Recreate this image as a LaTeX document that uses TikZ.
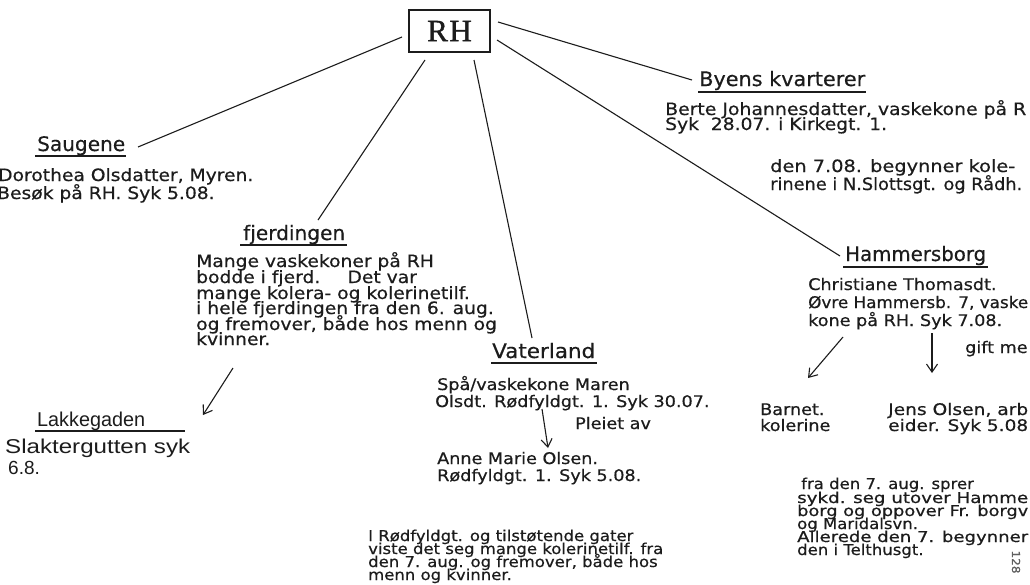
\documentclass[tikz,border=0pt]{standalone}
\usepackage{fontspec}
\setmainfont{DejaVu Sans}[FakeStretch=1.1, FakeBold=0.5]
\newfontfamily\rhfont{Liberation Serif}[FakeBold=1.2]
\newfontfamily\penfont{Liberation Sans}
\usepackage{graphicx}
\usetikzlibrary{arrows.meta}
\newsavebox\fitbox
\newcommand{\fitw}[2]{\sbox\fitbox{#2}\pgfmathsetmacro\fitx{#1/\the\wd\fitbox}\scalebox{\fitx}[1]{\usebox\fitbox}}
\definecolor{ink}{HTML}{1C1C1C}
\begin{document}
\begin{tikzpicture}[x=1pt,y=-1pt,
  txt/.style={inner sep=0pt, anchor=base west, text=ink, font=\fontsize{17}{19}\selectfont},
  body/.style={txt, font=\fontsize{16}{18}\selectfont},
  small/.style={txt, font=\fontsize{15}{17}\selectfont},
  head/.style={inner sep=0pt, anchor=base west, text=ink, font=\fontsize{20}{22}\selectfont},
  pen/.style={txt, font=\penfont\fontsize{20}{22}\selectfont},
  ul/.style={draw=ink, line width=1.4pt},
  conn/.style={draw=ink, line width=1.1pt},
  arr/.style={draw=ink, line width=1.1pt, -{Straight Barb[length=8pt,width=11pt,line width=1.1pt]}}]
\useasboundingbox (0,0) rectangle (1030,584);
\fill[white] (0,0) rectangle (1030,584);

% central box
\node[draw=ink, line width=1.4pt, minimum width=81pt, minimum height=42pt, inner sep=0pt,
      font=\rhfont\fontsize{31}{31}\selectfont, text=ink] (rh) at (449.5,31) {R\kern1.5pt H};

% Saugene
\node[head] (saug) at (37,151) {\fitw{88}{Saugene}};
\draw[ul] ([xshift=-2pt,yshift=-5pt]saug.base west) -- ([xshift=1pt,yshift=-5pt]saug.base east);
\node[txt] (saug1) at (-2,181) {Dorothea Olsdatter, Myren.};
\node[txt] (saug2) at (-3,199) {Besøk på RH. Syk 5.08.};

% Fjerdingen
\node[head] (fjer) at (243,240) {\fitw{102}{fjerdingen}};
\draw[ul] ([xshift=-3pt,yshift=-5pt]fjer.base west) -- ([xshift=2pt,yshift=-5pt]fjer.base east);
\node[txt] (fj1) at (196,267) {Mange vaskekoner på RH};
\node[txt] (fj2) at (196,283) {bodde i fjerd.\hspace{1.6em}Det var};
\node[txt] (fj3) at (196,299) {mange kolera- og kolerinetilf.};
\node[txt] (fj4) at (196,314) {i hele fjerdingen fra den 6. aug.};
\node[txt] (fj5) at (196,330) {og fremover, både hos menn og};
\node[txt] (fj6) at (196,345) {kvinner.};

% Lakkegaden
\node[pen] (lakk) at (37,426) {\fitw{108}{Lakkegaden}};
\draw[ul, line width=1.2pt] ([xshift=-2pt,yshift=-5pt]lakk.base west) -- ++(150,0);
\node[pen] (lk1) at (5,453) {\fitw{185}{Slaktergutten syk}};
\node[pen, font=\penfont\fontsize{19}{21}\selectfont] (lk2) at (8,474) {6.8.};

% Vaterland
\node[head] (vat) at (492,358) {\fitw{103}{Vaterland}};
\draw[ul] ([xshift=-1pt,yshift=-5pt]vat.base west) -- ([xshift=2pt,yshift=-5pt]vat.base east);
\node[body] (v1) at (437,390) {Spå/vaskekone Maren};
\node[body] (v2) at (435,407) {Olsdt. Rødfyldgt. 1. Syk 30.07.};
\node[body] (v3) at (575,429) {Pleiet av};
\node[body] (v4) at (437,464) {Anne Marie Olsen.};
\node[body] (v5) at (437,481) {Rødfyldgt. 1. Syk 5.08.};
\node[small] (b1) at (368,541) {I Rødfyldgt. og tilstøtende gater};
\node[small] (b2) at (368,554) {viste det seg mange kolerinetilf. fra};
\node[small] (b3) at (368,567) {den 7. aug. og fremover, både hos};
\node[small] (b4) at (368,580) {menn og kvinner.};

% Byens kvarterer
\node[head] (byen) at (699,86) {\fitw{166}{Byens kvarterer}};
\draw[ul] ([xshift=-1pt,yshift=-6pt]byen.base west) -- ([xshift=1pt,yshift=-6pt]byen.base east);
\node[txt] (by1) at (665,115) {\fitw{361}{Berte Johannesdatter, vaskekone på R}};
\node[txt] (by2) at (665,130) {Syk \ 28.07. i Kirkegt. 1.};
\node[txt] (by3) at (770,172) {\fitw{245}{den 7.08. begynner kole-}};
\node[txt] (by4) at (770,190) {\fitw{252}{rinene i N.Slottsgt. og Rådh.}};

% Hammersborg
\node[head] (ham) at (845,261) {\fitw{141}{Hammersborg}};
\draw[ul] ([xshift=-2pt,yshift=-6pt]ham.base west) -- ([xshift=2pt,yshift=-6pt]ham.base east);
\node[body] (h1) at (808,290) {Christiane Thomasdt.};
\node[body] (h2) at (808,308) {\fitw{220}{Øvre Hammersb. 7, vaske}};
\node[body] (h3) at (808,326) {kone på RH. Syk 7.08.};
\node[body] (h4) at (965,353) {gift me};
\node[body] (h5) at (760,415) {Barnet.};
\node[body] (h6) at (760,431) {kolerine};
\node[body] (h7) at (888,415) {\fitw{140}{Jens Olsen, arb}};
\node[body] (h8) at (888,431) {\fitw{140}{eider. Syk 5.08}};
\node[small] (f1) at (801,489) {fra den 7. aug. sprer};
\node[small] (f2) at (797,503) {\fitw{231}{sykd. seg utover Hamme}};
\node[small] (f3) at (797,516) {\fitw{231}{borg og oppover Fr. borgv}};
\node[small] (f4) at (797,529) {og Maridalsvn.};
\node[small] (f5) at (797,542) {\fitw{231}{Allerede den 7. begynner}};
\node[small] (f6) at (797,555) {den i Telthusgt.};
\node[inner sep=0pt, rotate=-90, text=ink!70, font=\fontsize{11}{12}\selectfont] (pg) at (1016,562) {128};

% connector end points
\coordinate (c-s1) at (402,37);   \coordinate (c-s2) at (138,147);
\coordinate (c-f1) at (425,60);   \coordinate (c-f2) at (318,220);
\coordinate (c-v1) at (474,60);   \coordinate (c-v2) at (532,338);
\coordinate (c-b1) at (498,22);   \coordinate (c-b2) at (692,80);
\coordinate (c-h1) at (497,40);   \coordinate (c-h2) at (840,256);
\draw[conn] (c-s1) -- (c-s2);
\draw[conn] (c-f1) -- (c-f2);
\draw[conn] (c-v1) -- (c-v2);
\draw[conn] (c-b1) -- (c-b2);
\draw[conn] (c-h1) -- (c-h2);

% arrows
\coordinate (a-l1) at (233,368); \coordinate (a-l2) at (203,415);
\coordinate (a-v1) at (542,409); \coordinate (a-v2) at (548,448);
\coordinate (a-h1) at (843,337); \coordinate (a-h2) at (808,378);
\coordinate (a-j1) at (932,333); \coordinate (a-j2) at (932,373);
\draw[arr] (a-l1) -- (a-l2);
\draw[arr] (a-v1) -- (a-v2);
\draw[arr] (a-h1) -- (a-h2);
\draw[arr] (a-j1) -- (a-j2);
\end{tikzpicture}
\end{document}
